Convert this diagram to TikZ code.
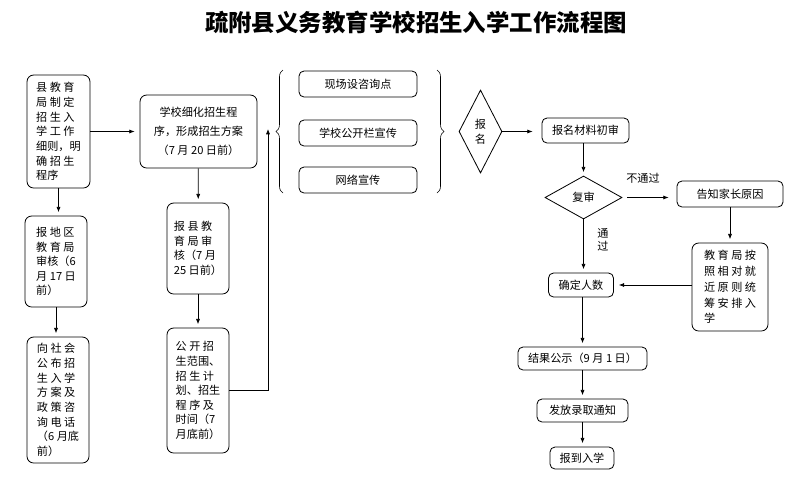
\documentclass[tikz,border=0pt]{standalone}
\usepackage{fontspec}
\setmainfont{Noto Sans CJK SC}
\usetikzlibrary{shapes.geometric,arrows.meta,decorations.pathreplacing}

\begin{document}
\begin{tikzpicture}[x=0.03cm, y=-0.03cm,
    box/.style={draw, rounded corners=2mm, line width=0.7pt, align=left, inner sep=1pt,
        font=\fontsize{9.5}{12.5}\selectfont},
    dia/.style={draw, diamond, line width=0.7pt, inner sep=0pt, align=center,
        font=\fontsize{9.5}{12.5}\selectfont},
    arr/.style={-{Latex[length=4.5pt,width=3.5pt]}, line width=0.6pt, shorten >=1mm},
    lbl/.style={font=\fontsize{9.5}{11}\selectfont, align=center, inner sep=0pt}]
    \useasboundingbox (0,0) rectangle (807,490);

    % Title
    \node[font=\fontsize{20}{24}\selectfont\bfseries] (title) at (416,22)
        {疏附县义务教育学校招生入学工作流程图};

    % Nodes, left part
    \node[box, minimum width=1.89cm, minimum height=3.39cm] (A) at (58.5,131.5)
        {县 教 育\\局 制 定\\招 生 入\\学 工 作\\细则，明\\确 招 生\\程序};
    \node[box, minimum width=3.51cm, minimum height=2.19cm, align=center,
        font=\fontsize{9.5}{16}\selectfont] (B) at (198.5,131.5)
        {学校细化招生程\\序，形成招生方案\\（7 月 20 日前）};
    \node[box, minimum width=1.86cm, minimum height=2.73cm] (C) at (56,261.5)
        {报 地 区\\教 育 局\\审核（6\\月 17 日\\前）};
    \node[box, minimum width=1.86cm, minimum height=3.78cm] (D) at (58,400)
        {向 社 会\\公 布 招\\生 入 学\\方 案 及\\政 策 咨\\询 电 话\\（6 月底\\前）};
    \node[box, minimum width=1.86cm, minimum height=2.73cm] (E) at (198,248.5)
        {报 县 教\\育 局 审\\核（7 月\\25 日前）};
    \node[box, minimum width=1.86cm, minimum height=3.75cm] (F) at (198,390.5)
        {公 开 招\\生范围、\\招 生 计\\划、招生\\程 序 及\\时间（7\\月底前）};

    % Nodes, publicity
    \node[box, rounded corners=1.5mm, minimum width=3.54cm, minimum height=0.78cm] (G1) at (358,84) {现场设咨询点};
    \node[box, rounded corners=1.5mm, minimum width=3.54cm, minimum height=0.78cm] (G2) at (358,133) {学校公开栏宣传};
    \node[box, rounded corners=1.5mm, minimum width=3.54cm, minimum height=0.78cm] (G3) at (358,180) {网络宣传};
    \coordinate (bl1) at (283,193);
    \coordinate (bl2) at (283,70);
    \coordinate (br1) at (437,70);
    \coordinate (br2) at (437,193);
    \coordinate (inb) at (268,129);

    % Nodes, right part
    \node[dia, minimum width=1.29cm, minimum height=2.49cm] (P) at (480.5,131.5) {报\\名};
    \node[box, rounded corners=1.5mm, minimum width=2.61cm, minimum height=0.75cm] (H) at (585.5,130.5) {报名材料初审};
    \node[dia, minimum width=2.31cm, minimum height=1.29cm] (I) at (583.5,197.5) {复审};
    \node[box, rounded corners=1.5mm, minimum width=3.18cm, minimum height=0.78cm] (J) at (730,194) {告知家长原因};
    \node[box, minimum width=2.28cm, minimum height=2.64cm,
        font=\fontsize{9.5}{13.5}\selectfont] (K) at (730,287)
        {教 育 局 按\\照 相 对 就\\近 原 则 统\\筹 安 排 入\\学};
    \node[box, rounded corners=1.5mm, minimum width=1.95cm, minimum height=0.72cm] (L) at (581,285) {确定人数};
    \node[box, rounded corners=1.5mm, minimum width=3.87cm, minimum height=0.69cm] (M) at (582.5,358.5) {结果公示（9 月 1 日）};
    \node[box, rounded corners=1.5mm, minimum width=2.73cm, minimum height=0.69cm] (N) at (582.5,410.5) {发放录取通知};
    \node[box, rounded corners=1.5mm, minimum width=1.92cm, minimum height=0.66cm] (O) at (582,458) {报到入学};
    \node[lbl] (fail) at (643,178) {不通过};
    \node[lbl] (pass) at (603,240) {通\\过};

    % Edges
    \draw[arr, shorten >=0.15cm] (A) -- (B);
    \draw[arr] (A.south) -- (A.south |- C.north);
    \draw[arr] (C.south) -- (C.south |- D.north);
    \draw[arr] (B) -- (E);
    \draw[arr] (E) -- (F);
    \draw[arr, shorten >=0pt] (F.east) -| (inb);
    \draw[decorate, decoration={brace, amplitude=6pt}, line width=0.5pt] (bl1) -- (bl2);
    \draw[decorate, decoration={brace, amplitude=6pt}, line width=0.5pt] (br1) -- (br2);
    \draw[arr, shorten >=0.27cm] (P) -- (P -| H.west);
    \draw[arr] (I |- H.south) -- (I.north);
    \draw[arr, shorten <=0.15cm, shorten >=0.24cm] (I.east) -- (I.east -| J.west);
    \draw[arr] (J) -- (K);
    \draw[arr, shorten >=0.15cm] (K.west |- L) -- (L.east);
    \draw[arr] (I.south) -- (I.south |- L.north);
    \draw[arr] (M |- L.south) -- (M.north);
    \draw[arr] (M.south) -- (N.north);
    \draw[arr] (N.south) -- (N.south |- O.north);
\end{tikzpicture}
\end{document}
